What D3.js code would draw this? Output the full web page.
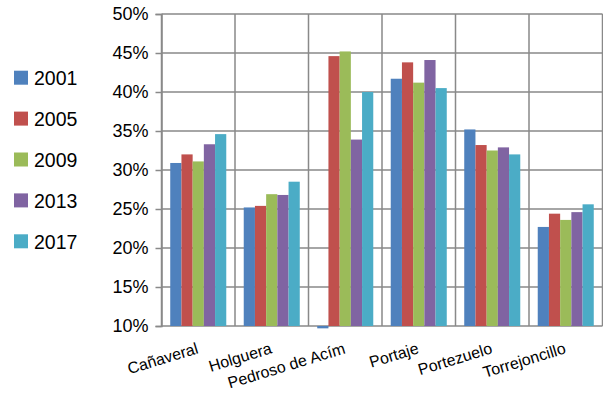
<!DOCTYPE html>
<html><head><meta charset="utf-8">
<script src="https://cdn.jsdelivr.net/npm/d3@7"></script>
<style>body{margin:0;background:#fff}svg{display:block}</style>
</head><body>
<svg id="c" width="603" height="396"></svg>
<script>
const categories = ["Cañaveral","Holguera","Pedroso de Acím","Portaje","Portezuelo","Torrejoncillo"];
const years = ["2001","2005","2009","2013","2017"];
const v2001 = [30.9, 25.2, 9.7, 41.7, 35.2, 22.7];
const v2005 = [32.0, 25.4, 44.6, 43.8, 33.2, 24.4];
const v2009 = [31.1, 26.9, 45.2, 41.2, 32.5, 23.6];
const v2013 = [33.3, 26.8, 33.9, 44.1, 32.9, 24.6];
const v2017 = [34.6, 28.5, 40.0, 40.5, 32.0, 25.6];
const yTicks = [10,15,20,25,30,35,40,45,50];
const colors = ["#4F81BD","#C0504D","#9BBB59","#8064A2","#4BACC6"];
const seriesVals = [v2001, v2005, v2009, v2013, v2017];

const svg = d3.select("#c");
const L = 161.5, R = 602.5, T = 14, B = 326;
const x0 = d3.scaleBand().domain(categories).range([L, R]).padding(0);
const x1 = d3.scaleBand().domain(years).range([0, x0.bandwidth()]).paddingInner(0).paddingOuter(0.78);
const y = d3.scaleLinear().domain([10, 50]).range([B, T]);
const col = d3.scaleOrdinal().domain(years).range(colors);
const grid = "#898989";

// horizontal gridlines
svg.append("g").selectAll("line").data(yTicks).join("line")
  .attr("x1", L).attr("x2", R).attr("y1", d => y(d)).attr("y2", d => y(d))
  .attr("stroke", grid).attr("stroke-width", 1.5);
// vertical gridlines at category boundaries
const bounds = categories.map(c => x0(c)).concat([R]);
svg.append("g").selectAll("line").data(bounds).join("line")
  .attr("x1", d => d).attr("x2", d => d).attr("y1", T).attr("y2", B)
  .attr("stroke", grid).attr("stroke-width", 1.5);

// bars
const data = [];
categories.forEach((c, i) => years.forEach((yr, j) => data.push({c, yr, v: seriesVals[j][i]})));
svg.append("g").selectAll("rect").data(data).join("rect")
  .attr("x", d => x0(d.c) + x1(d.yr))
  .attr("width", x1.bandwidth())
  .attr("y", d => Math.min(y(d.v), y(10)))
  .attr("height", d => Math.abs(y(d.v) - y(10)))
  .attr("fill", d => col(d.yr));

// y axis
const yAxis = d3.axisLeft(y).tickValues(yTicks).tickFormat(d => d + "%").tickSize(6).tickPadding(7);
const ga = svg.append("g").attr("transform", `translate(${L},0)`).call(yAxis);
ga.select(".domain").attr("stroke", grid).attr("stroke-width", 1.5);
ga.selectAll(".tick line").attr("stroke", grid).attr("stroke-width", 1.5);
ga.selectAll("text").attr("font-family", "Liberation Sans, Arial, sans-serif").attr("font-size", 18).attr("fill", "#000");

// x labels
svg.append("g").selectAll("text").data(categories).join("text")
  .attr("transform", d => `translate(${x0(d) + x0.bandwidth()/2 + 1},353) rotate(-17)`)
  .attr("text-anchor", "end")
  .attr("font-family", "Liberation Sans, Arial, sans-serif").attr("font-size", 16).attr("fill", "#000")
  .text(d => d);

// legend
const lg = svg.append("g").selectAll("g").data(years).join("g")
  .attr("transform", (d, i) => `translate(14,${70.7 + i * 40.9})`);
lg.append("rect").attr("width", 14).attr("height", 14).attr("fill", d => col(d));
lg.append("text").attr("x", 20).attr("y", 14.3)
  .attr("font-family", "Liberation Sans, Arial, sans-serif").attr("font-size", 19.5).attr("fill", "#000")
  .text(d => d);
</script>
</body></html>
